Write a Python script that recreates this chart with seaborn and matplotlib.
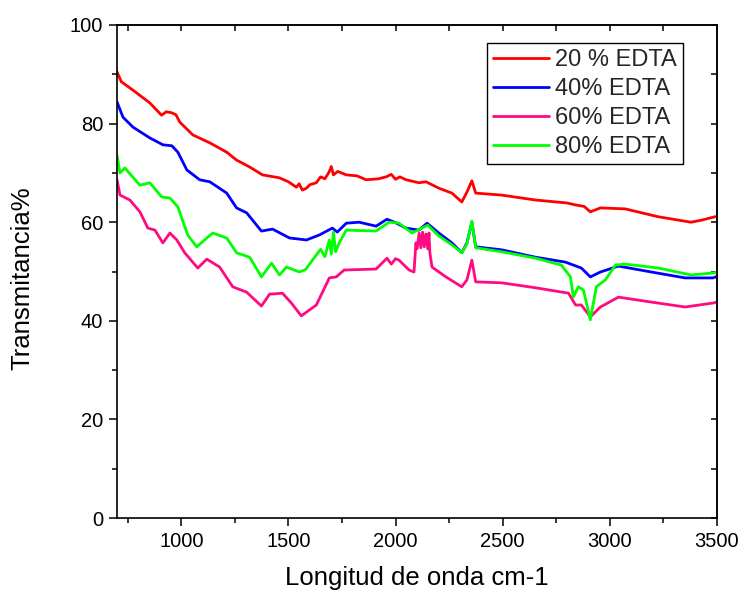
import matplotlib
matplotlib.use("Agg")
import matplotlib.pyplot as plt
import seaborn as sns
import pandas as pd
from matplotlib.ticker import MultipleLocator, FixedLocator, NullFormatter

# ---- data ----
series_names = ["20 % EDTA", "40% EDTA", "60% EDTA", "80% EDTA"]
series_colors = ["#ff0000", "#0000ff", "#ff0a80", "#00ff00"]

x20 = [700, 720, 774, 853, 908, 930, 955, 975, 993, 1054, 1133, 1212, 1258, 1319, 1379, 1458, 1500, 1537,
       1550, 1565, 1584, 1600, 1630, 1650, 1670, 1690, 1700, 1710, 1730, 1770, 1820, 1863, 1920, 1956, 1980,
       2000, 2020, 2049, 2080, 2109, 2142, 2202, 2263, 2309, 2333, 2356, 2374, 2495, 2653, 2800, 2840, 2880,
       2909, 2956, 3072, 3226, 3379, 3426, 3481, 3500]
y20 = [90.5, 88.5, 86.8, 84.2, 81.7, 82.4, 82.2, 81.8, 80.3, 77.7, 76.1, 74.2, 72.6, 71.2, 69.6, 69.0, 68.2, 67.1,
       67.8, 66.5, 66.9, 67.6, 68.0, 69.2, 68.8, 70.2, 71.3, 69.6, 70.3, 69.6, 69.4, 68.6, 68.8, 69.2, 69.7,
       68.7, 69.2, 68.6, 68.3, 68.0, 68.2, 66.9, 65.9, 64.1, 66.1, 68.4, 65.9, 65.5, 64.5, 63.9, 63.5, 63.2,
       62.1, 62.9, 62.7, 61.1, 60.0, 60.4, 61.0, 61.2]

x40 = [700, 728, 774, 853, 914, 956, 984, 1026, 1086, 1133, 1212, 1258, 1305, 1374, 1426, 1505, 1584, 1644,
       1705, 1728, 1770, 1830, 1909, 1960, 2000, 2049, 2109, 2147, 2202, 2263, 2309, 2333, 2356, 2374, 2495,
       2653, 2793, 2867, 2909, 2956, 3040, 3193, 3351, 3481, 3500]
y40 = [84.4, 81.3, 79.3, 77.1, 75.7, 75.5, 74.2, 70.6, 68.6, 68.2, 65.9, 62.9, 61.9, 58.2, 58.6, 56.8, 56.4, 57.4,
       58.8, 58.0, 59.8, 60.0, 59.2, 60.6, 59.9, 58.8, 58.4, 59.8, 57.8, 55.8, 53.8, 55.8, 60.0, 55.0, 54.4,
       52.9, 51.9, 50.7, 48.9, 49.9, 51.1, 49.9, 48.7, 48.7, 49.0]

x60 = [700, 714, 760, 807, 844, 877, 914, 947, 979, 1016, 1077, 1119, 1179, 1240, 1305, 1374, 1412, 1472,
       1514, 1560, 1630, 1691, 1723, 1760, 1909, 1960, 1980, 2000, 2016, 2063, 2086, 2095, 2100, 2110, 2118,
       2126, 2134, 2142, 2150, 2156, 2160, 2170, 2235, 2309, 2333, 2356, 2374, 2495, 2653, 2807, 2840, 2867,
       2909, 2956, 3040, 3193, 3351, 3481, 3500]
y60 = [68.6, 65.5, 64.5, 62.1, 58.8, 58.4, 55.8, 57.8, 56.4, 53.8, 50.7, 52.5, 50.9, 46.9, 45.8, 43.0, 45.4, 45.6,
       43.6, 41.0, 43.2, 48.7, 48.9, 50.3, 50.5, 52.7, 51.5, 52.6, 52.3, 50.3, 49.9, 55.8, 54.6, 57.8, 54.8,
       58.0, 55.0, 57.6, 54.6, 57.8, 53.8, 50.9, 48.9, 46.9, 48.3, 52.3, 47.9, 47.7, 46.7, 45.6, 43.2, 43.2,
       40.8, 42.8, 44.8, 43.8, 42.8, 43.6, 43.8]

x80 = [700, 714, 737, 807, 853, 909, 947, 984, 1030, 1072, 1119, 1147, 1212, 1258, 1319, 1374, 1421, 1458,
       1491, 1551, 1580, 1612, 1650, 1670, 1691, 1700, 1710, 1720, 1737, 1770, 1909, 1970, 2016, 2077, 2150,
       2202, 2263, 2309, 2333, 2356, 2374, 2495, 2653, 2774, 2816, 2830, 2853, 2877, 2909, 2937, 2979, 3026,
       3072, 3226, 3379, 3481, 3500]
y80 = [73.6, 70.0, 71.0, 67.5, 68.0, 65.1, 64.9, 63.1, 57.4, 55.0, 56.8, 57.8, 56.8, 53.8, 52.9, 48.9, 51.7, 49.3,
       50.9, 49.9, 50.4, 52.3, 54.5, 53.0, 56.4, 53.5, 58.0, 54.0, 55.8, 58.4, 58.2, 60.0, 59.8, 57.8, 59.4,
       57.2, 55.4, 53.8, 55.6, 60.2, 54.8, 54.0, 52.7, 51.3, 48.9, 44.8, 46.9, 46.2, 40.2, 46.9, 48.3, 51.3,
       51.5, 50.7, 49.3, 49.7, 49.8]

x_major_ticks = [1000, 1500, 2000, 2500, 3000, 3500]
y_major_ticks = [0, 20, 40, 60, 80, 100]
x_label = "Longitud de onda cm-1"
y_label = "Transmitancia%"

frames = []
for name, xs, ys in zip(series_names, [x20, x40, x60, x80], [y20, y40, y60, y80]):
    frames.append(pd.DataFrame({"x": xs, "y": ys, "serie": name}))
df = pd.concat(frames, ignore_index=True)

# ---- style ----
sns.set_theme(style="white")
plt.rcParams["font.family"] = ["Liberation Sans Narrow", "Liberation Sans", "DejaVu Sans"]

fig = plt.figure(figsize=(7.4, 5.92), dpi=100)
# axes: left 117px, right 717px, top 25px, bottom 518px
ax = fig.add_axes([117 / 740, (592 - 518) / 592, 600 / 740, 493 / 592])

sns.lineplot(data=df, x="x", y="y", hue="serie", hue_order=series_names,
             palette=series_colors, estimator=None, sort=False, linewidth=2.0, ax=ax)

ax.set_xlim(700, 3500)
ax.set_ylim(0, 100)
ax.xaxis.set_major_locator(FixedLocator(x_major_ticks))
ax.xaxis.set_minor_locator(FixedLocator([750, 1250, 1750, 2250, 2750, 3250]))
ax.yaxis.set_major_locator(FixedLocator(y_major_ticks))
ax.yaxis.set_minor_locator(FixedLocator([10, 30, 50, 70, 90]))

for s in ax.spines.values():
    s.set_color("black")
    s.set_linewidth(1.2)

ax.tick_params(axis="both", which="major", direction="out", length=6, width=1.1,
               colors="black", labelsize=14.5, pad=4, bottom=True, left=True, top=False, right=False)
ax.tick_params(axis="both", which="minor", direction="out", length=3.5, width=1.1,
               colors="black", bottom=True, left=True, top=False, right=False)

# inward ticks on top and right
top = ax.secondary_xaxis("top")
top.xaxis.set_major_locator(MultipleLocator(250))
top.xaxis.set_major_formatter(NullFormatter())
top.tick_params(direction="in", length=4, width=1.1, colors="black")
right = ax.secondary_yaxis("right")
right.yaxis.set_major_locator(MultipleLocator(10))
right.yaxis.set_major_formatter(NullFormatter())
right.tick_params(direction="in", length=4, width=1.1, colors="black")

ax.set_xlabel(x_label, fontsize=18.5, color="black", va="top")
ax.xaxis.set_label_coords(0.5, (518 - 566) / 493)
ax.set_ylabel(y_label, fontsize=18.5, color="black")
ax.yaxis.set_label_coords((34 - 117) / 600, (518 - 278) / 493)

leg = ax.legend(loc="upper right", bbox_to_anchor=((683 - 117) / 600, (518 - 43) / 493), fontsize=17,
                frameon=True, fancybox=False, shadow=False, framealpha=1,
                edgecolor="black", handlelength=2.4, handletextpad=0.25,
                labelspacing=0.3, borderpad=0.25, borderaxespad=0)
leg.get_frame().set_linewidth(1.0)
for h in leg.get_lines():
    h.set_linewidth(2.0)

fig.savefig("out.png", dpi=100)
